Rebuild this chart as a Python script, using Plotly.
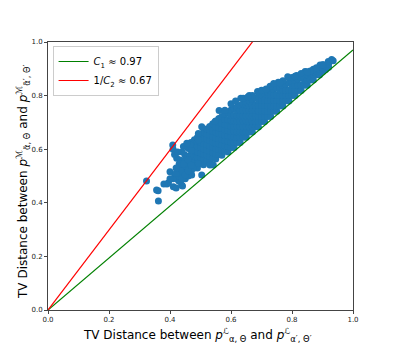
import plotly.graph_objects as go

# reference lines
c1 = 0.97
inv_c2 = 0.67
line_x = [0.0, 1.0]

# dense band of the scatter, column by column (x -> several y)
core_cols = [0.47, 0.48, 0.49, 0.50, 0.51, 0.52, 0.53, 0.54, 0.55, 0.56,
             0.57, 0.58, 0.59, 0.60, 0.61, 0.62, 0.63, 0.64, 0.65, 0.66,
             0.67, 0.68, 0.69, 0.70, 0.71, 0.72, 0.73, 0.74, 0.75, 0.76,
             0.77, 0.78, 0.79, 0.80, 0.81, 0.82, 0.83, 0.84, 0.85, 0.86,
             0.87, 0.88, 0.89, 0.90, 0.91, 0.92]
core_ys = [
    [0.52, 0.54, 0.56, 0.58, 0.60, 0.625],
    [0.535, 0.555, 0.575, 0.595, 0.615, 0.635],
    [0.53, 0.55, 0.57, 0.59, 0.61, 0.63, 0.645],
    [0.547, 0.567, 0.587, 0.607, 0.627, 0.655],
    [0.542, 0.562, 0.582, 0.602, 0.622, 0.642, 0.665],
    [0.558, 0.578, 0.598, 0.618, 0.638, 0.658, 0.675],
    [0.553, 0.573, 0.593, 0.613, 0.633, 0.653, 0.673, 0.685],
    [0.568, 0.588, 0.608, 0.628, 0.648, 0.668, 0.695],
    [0.563, 0.583, 0.603, 0.623, 0.643, 0.663, 0.683, 0.705],
    [0.58, 0.60, 0.62, 0.64, 0.66, 0.68, 0.70, 0.715],
    [0.577, 0.597, 0.617, 0.637, 0.657, 0.677, 0.697, 0.722],
    [0.593, 0.613, 0.633, 0.653, 0.673, 0.693, 0.713, 0.73],
    [0.59, 0.61, 0.63, 0.65, 0.67, 0.69, 0.71, 0.738],
    [0.606, 0.626, 0.646, 0.666, 0.686, 0.706, 0.726, 0.746],
    [0.606, 0.626, 0.646, 0.666, 0.686, 0.706, 0.726, 0.752],
    [0.625, 0.645, 0.665, 0.685, 0.705, 0.725, 0.745, 0.758],
    [0.625, 0.645, 0.665, 0.685, 0.705, 0.725, 0.745, 0.764],
    [0.645, 0.665, 0.685, 0.705, 0.725, 0.745, 0.77],
    [0.645, 0.665, 0.685, 0.705, 0.725, 0.745, 0.765, 0.776],
    [0.664, 0.684, 0.704, 0.724, 0.744, 0.764, 0.781],
    [0.664, 0.684, 0.704, 0.724, 0.744, 0.764, 0.786],
    [0.684, 0.704, 0.724, 0.744, 0.764, 0.791],
    [0.683, 0.703, 0.723, 0.743, 0.763, 0.783, 0.797],
    [0.703, 0.723, 0.743, 0.763, 0.783, 0.803],
    [0.703, 0.723, 0.743, 0.763, 0.783, 0.808],
    [0.722, 0.742, 0.762, 0.782, 0.802, 0.813],
    [0.722, 0.742, 0.762, 0.782, 0.802, 0.818],
    [0.742, 0.762, 0.782, 0.802, 0.823],
    [0.742, 0.762, 0.782, 0.802, 0.828],
    [0.761, 0.781, 0.801, 0.821, 0.833],
    [0.761, 0.781, 0.801, 0.821, 0.838],
    [0.781, 0.801, 0.821, 0.843],
    [0.78, 0.80, 0.82, 0.848],
    [0.80, 0.82, 0.84, 0.853],
    [0.80, 0.82, 0.84, 0.858],
    [0.819, 0.839, 0.862],
    [0.819, 0.839, 0.867],
    [0.839, 0.859, 0.872],
    [0.839, 0.859, 0.877],
    [0.858, 0.882],
    [0.858, 0.878, 0.887],
    [0.878, 0.892],
    [0.877, 0.897],
    [0.89, 0.902],
    [0.897, 0.91],
    [0.906, 0.918],
]

# scattered points around the band
loose_x = [0.323, 0.356, 0.361, 0.362, 0.395, 0.400, 0.411, 0.416, 0.433, 0.438,
           0.427, 0.438, 0.460, 0.449, 0.466, 0.460, 0.471, 0.477, 0.493, 0.504,
           0.531, 0.542, 0.390, 0.420, 0.441, 0.430, 0.410, 0.430, 0.440, 0.450,
           0.450, 0.460, 0.561, 0.504, 0.493, 0.548, 0.632, 0.660, 0.687,
           0.728, 0.755, 0.786, 0.843, 0.892, 0.930, 0.919, 0.903, 0.870, 0.815,
           0.444, 0.466, 0.422, 0.493, 0.409, 0.455, 0.410, 0.415, 0.425, 0.430,
           0.440, 0.450, 0.455, 0.435, 0.445, 0.465, 0.470, 0.580, 0.600, 0.640,
           0.670, 0.700, 0.740, 0.770, 0.800, 0.830, 0.860, 0.880, 0.900, 0.935,
           0.380, 0.400, 0.420, 0.420, 0.440, 0.450, 0.460, 0.460, 0.470, 0.615,
           0.655, 0.715, 0.760, 0.810, 0.850]
loose_y = [0.481, 0.448, 0.445, 0.407, 0.475, 0.516, 0.460, 0.504, 0.560, 0.535,
           0.485, 0.466, 0.603, 0.578, 0.623, 0.547, 0.504, 0.529, 0.547, 0.504,
           0.541, 0.541, 0.470, 0.455, 0.463, 0.480, 0.490, 0.500, 0.510, 0.490,
           0.520, 0.500, 0.744, 0.684, 0.659, 0.703, 0.790, 0.800, 0.815,
           0.835, 0.850, 0.870, 0.890, 0.914, 0.935, 0.927, 0.915, 0.898, 0.875,
           0.610, 0.616, 0.566, 0.634, 0.616, 0.622, 0.600, 0.580, 0.590, 0.545,
           0.590, 0.560, 0.535, 0.520, 0.545, 0.575, 0.595, 0.745, 0.770, 0.790,
           0.800, 0.820, 0.845, 0.855, 0.868, 0.882, 0.892, 0.904, 0.915, 0.930,
           0.470, 0.490, 0.510, 0.530, 0.490, 0.505, 0.520, 0.560, 0.540, 0.780,
           0.795, 0.825, 0.848, 0.872, 0.889]

pts_x = [c for c, ys in zip(core_cols, core_ys) for _ in ys] + loose_x
pts_y = [y for ys in core_ys for y in ys] + loose_y

fig = go.Figure()

fig.add_trace(go.Scatter(
    x=pts_x, y=pts_y, mode='markers',
    marker=dict(color='#1f77b4', size=7, line=dict(width=0)),
    showlegend=False,
))

fig.add_trace(go.Scatter(
    x=line_x, y=[v * c1 for v in line_x], mode='lines',
    line=dict(color='#008000', width=1.2),
    name='<i>C</i><sub>1</sub> ≈ 0.97',
))
fig.add_trace(go.Scatter(
    x=line_x, y=[v / inv_c2 for v in line_x], mode='lines',
    line=dict(color='red', width=1.2),
    name='1/<i>C</i><sub>2</sub> ≈ 0.67',
))

axis_style = dict(
    range=[0, 1], tickvals=[0, 0.2, 0.4, 0.6, 0.8, 1.0],
    ticktext=['0.0', '0.2', '0.4', '0.6', '0.8', '1.0'],
    showgrid=False, zeroline=False, showline=True, mirror=True,
    linecolor='#444', linewidth=1, ticks='outside', ticklen=3,
    tickcolor='#444', tickfont=dict(size=7, color='#222'),
    automargin=False,
)

x_title = ('TV Distance between <i>p</i><sup>ℒ</sup><sub>α, Θ</sub> '
           'and <i>p</i><sup>ℒ</sup><sub>α′, Θ′</sub>')
y_title = ('TV Distance between <i>p</i><sup>ℳ</sup><sub>α̃, Θ</sub> '
           'and <i>p</i><sup>ℳ</sup><sub>α̃′, Θ′</sub>')

# page body adds 8px, so the figure is 8px smaller than the window
fig.update_layout(
    width=385, height=341,
    margin=dict(l=40, r=40, t=34, b=39),
    paper_bgcolor='white', plot_bgcolor='white',
    font=dict(family='DejaVu Sans', color='black'),
    xaxis=axis_style,
    yaxis=axis_style,
    legend=dict(
        x=0.015, y=0.985, xanchor='left', yanchor='top',
        bgcolor='rgba(255,255,255,0.8)', bordercolor='#ccc', borderwidth=1,
        font=dict(size=10), tracegroupgap=0, itemwidth=30,
    ),
    annotations=[
        dict(text=x_title, xref='paper', yref='paper', x=0.49, y=-0.092,
             xanchor='center', yanchor='middle', showarrow=False,
             font=dict(size=12)),
        dict(text=y_title, xref='paper', yref='paper', x=-0.08, y=0.48,
             xanchor='center', yanchor='middle', showarrow=False,
             textangle=-90, font=dict(size=12)),
    ],
)

fig.write_html("out.html")
